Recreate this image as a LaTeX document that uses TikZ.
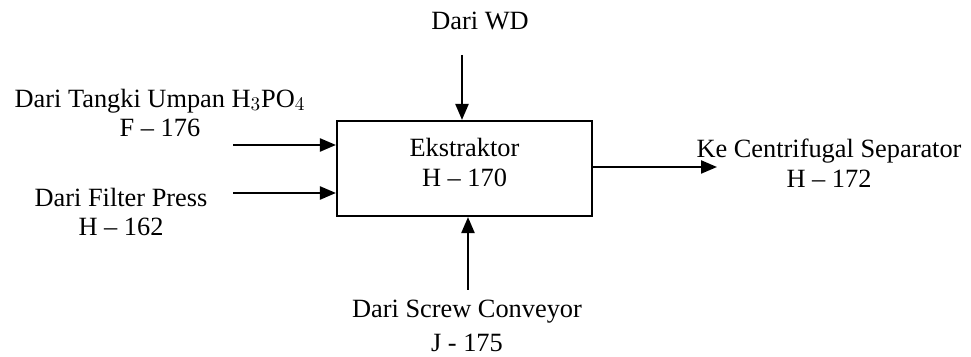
\documentclass[tikz,border=0pt]{standalone}
\usepackage{fontspec}
\setmainfont{Liberation Serif}
\usepackage{tikz}
\usetikzlibrary{arrows.meta,positioning}

\begin{document}
\begin{tikzpicture}[font=\fontsize{15}{17}\selectfont,
  box/.style={rectangle,draw,line width=1.2pt,minimum width=5.1cm,minimum height=1.9cm},
  lbl/.style={align=center,inner sep=0pt},
  a/.style={-{Triangle[length=0.32cm,width=0.26cm]},line width=1.3pt}]
\useasboundingbox (0,0) rectangle (19.42,7.14);
% --- the unit ---
\node[box] (ext) at (9.29,3.77) {};
\node[lbl] (extname) at ([yshift=0.12cm]ext.center) {Ekstraktor\\H -- 170};
% --- inputs from the left ---
\node[lbl] (tangki) at (3.2,4.88) {Dari Tangki Umpan H$_3$PO$_4$\\F -- 176};
\node[lbl] (filter) at (2.42,2.90) {Dari Filter Press\\H -- 162};
\coordinate (tin) at (4.66,4.24);
\coordinate (fin) at (4.66,3.28);
\draw[a] (tin)--(tin -| ext.west);\draw[a] (fin)--(fin -| ext.west);
% --- top and bottom inputs ---
\node[lbl] (wd) at (9.6,6.72) {Dari WD};
\coordinate (wdin) at (9.24,6.04);
\draw[a] (wdin)--(wdin |- ext.north);
\node[lbl] (screw) at (9.34,0.62) {Dari Screw Conveyor\\[2pt]J - 175};
\coordinate (scin) at (9.36,1.34);
\draw[a] (scin)--(scin |- ext.south);
% --- output to the right ---
\node[lbl] (sep) at (16.58,3.87) {Ke Centrifugal Separator\\H -- 172};
\coordinate (sepout) at (14.34,3.80);
\draw[a] (sepout -| ext.east)--(sepout);
\end{tikzpicture}
\end{document}
